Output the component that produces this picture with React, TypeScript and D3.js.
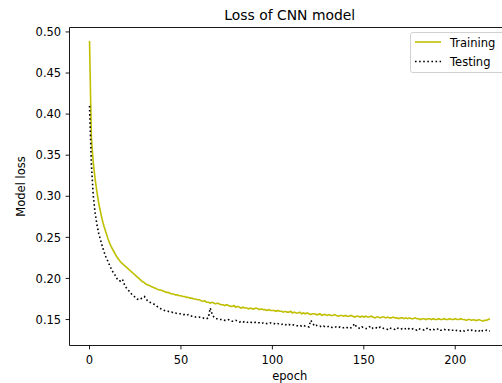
import React from "react";
import * as d3 from "d3";

const trainingLoss: number[] = [
  0.489, 0.372, 0.342, 0.322, 0.306, 0.292, 0.281, 0.271, 0.263, 0.256,
  0.249, 0.243, 0.238, 0.234, 0.230, 0.226, 0.223, 0.220, 0.218, 0.216,
  0.214, 0.212, 0.210, 0.208, 0.206, 0.204, 0.202, 0.200, 0.198, 0.196,
  0.195, 0.193, 0.192, 0.191, 0.190, 0.189, 0.188, 0.187, 0.186, 0.186,
  0.185, 0.184, 0.183, 0.183, 0.182, 0.181, 0.181, 0.180, 0.180, 0.179,
  0.179, 0.178, 0.178, 0.177, 0.177, 0.176, 0.176, 0.175, 0.175, 0.174,
  0.174, 0.173, 0.172, 0.173, 0.171, 0.171, 0.170, 0.171, 0.170, 0.169,
  0.170, 0.169, 0.168, 0.168, 0.167, 0.168, 0.167, 0.166, 0.166, 0.167,
  0.165, 0.166, 0.165, 0.164, 0.165, 0.164, 0.164, 0.163, 0.164, 0.163,
  0.163, 0.164, 0.163, 0.162, 0.163, 0.162, 0.162, 0.161, 0.162, 0.161,
  0.161, 0.161, 0.160, 0.161, 0.160, 0.160, 0.159, 0.160, 0.159, 0.159,
  0.160, 0.158, 0.159, 0.158, 0.158, 0.159, 0.157, 0.158, 0.157, 0.158,
  0.157, 0.156, 0.157, 0.157, 0.156, 0.156, 0.157, 0.155, 0.156, 0.156,
  0.155, 0.156, 0.155, 0.155, 0.156, 0.155, 0.154, 0.155, 0.155, 0.154,
  0.155, 0.154, 0.154, 0.155, 0.154, 0.153, 0.154, 0.154, 0.153, 0.154,
  0.153, 0.154, 0.153, 0.153, 0.154, 0.153, 0.152, 0.153, 0.153, 0.152,
  0.153, 0.153, 0.152, 0.153, 0.152, 0.152, 0.153, 0.152, 0.152, 0.151,
  0.152, 0.152, 0.151, 0.152, 0.151, 0.152, 0.151, 0.151, 0.152, 0.151,
  0.151, 0.150, 0.151, 0.151, 0.150, 0.151, 0.151, 0.150, 0.151, 0.150,
  0.150, 0.151, 0.150, 0.150, 0.151, 0.150, 0.150, 0.151, 0.150, 0.150,
  0.151, 0.150, 0.150, 0.151, 0.150, 0.150, 0.149, 0.150, 0.150, 0.149,
  0.150, 0.149, 0.149, 0.150, 0.149, 0.148, 0.149, 0.149, 0.150, 0.151,
];

const testingLoss: number[] = [
  0.410, 0.340, 0.302, 0.281, 0.266, 0.255, 0.247, 0.239, 0.232, 0.226,
  0.221, 0.216, 0.211, 0.207, 0.204, 0.200, 0.197, 0.197, 0.199, 0.193,
  0.189, 0.186, 0.184, 0.181, 0.179, 0.177, 0.175, 0.174, 0.175, 0.177,
  0.178, 0.175, 0.172, 0.171, 0.170, 0.169, 0.168, 0.166, 0.164, 0.163,
  0.162, 0.161, 0.160, 0.160, 0.159, 0.159, 0.158, 0.158, 0.157, 0.157,
  0.157, 0.156, 0.156, 0.155, 0.156, 0.155, 0.154, 0.154, 0.153, 0.153,
  0.153, 0.152, 0.152, 0.151, 0.151, 0.152, 0.164, 0.157, 0.153, 0.151,
  0.151, 0.150, 0.150, 0.150, 0.149, 0.149, 0.150, 0.149, 0.148, 0.148,
  0.149, 0.148, 0.147, 0.148, 0.147, 0.148, 0.147, 0.146, 0.147, 0.146,
  0.146, 0.147, 0.146, 0.146, 0.145, 0.146, 0.146, 0.145, 0.145, 0.146,
  0.145, 0.145, 0.144, 0.145, 0.144, 0.144, 0.145, 0.144, 0.143, 0.144,
  0.143, 0.144, 0.143, 0.143, 0.142, 0.143, 0.142, 0.143, 0.142, 0.142,
  0.141, 0.149, 0.146, 0.142, 0.143, 0.142, 0.142, 0.141, 0.142, 0.141,
  0.141, 0.142, 0.141, 0.140, 0.141, 0.141, 0.140, 0.141, 0.140, 0.140,
  0.141, 0.140, 0.139, 0.140, 0.142, 0.145, 0.141, 0.140, 0.139, 0.141,
  0.140, 0.139, 0.139, 0.141, 0.142, 0.139, 0.139, 0.140, 0.139, 0.141,
  0.140, 0.139, 0.139, 0.138, 0.140, 0.139, 0.139, 0.138, 0.140, 0.139,
  0.138, 0.139, 0.138, 0.139, 0.140, 0.138, 0.138, 0.139, 0.138, 0.137,
  0.139, 0.138, 0.138, 0.137, 0.138, 0.140, 0.138, 0.137, 0.138, 0.137,
  0.138, 0.139, 0.137, 0.137, 0.138, 0.137, 0.137, 0.138, 0.137, 0.137,
  0.136, 0.137, 0.137, 0.136, 0.137, 0.136, 0.137, 0.137, 0.136, 0.137,
  0.136, 0.136, 0.137, 0.136, 0.138, 0.136, 0.136, 0.137, 0.136, 0.136,
];

const xTicks: number[] = [0, 50, 100, 150, 200];
const yTicks: number[] = [0.15, 0.2, 0.25, 0.3, 0.35, 0.4, 0.45, 0.5];
const seriesNames: string[] = ["Training", "Testing"];

const W = 502;
const H = 383;
const FONT = "'DejaVu Sans', sans-serif";

export default function App() {
  const left = 69.5;
  const right = 510;
  const top = 27.5;
  const bottom = 345.5;

  const x = d3.scaleLinear().domain([-10.95, 229.95]).range([left, right]);
  const y = d3.scaleLinear().domain([0.1184, 0.5054]).range([bottom, top]);

  const line = d3
    .line<number>()
    .x((_, i) => x(i))
    .y((d) => y(d));

  const tickLen = 3.9;
  const fs = 11.5;

  return (
    <svg
      width={W}
      height={H}
      style={{ position: "absolute", left: 0, top: 0, background: "#fff" }}
      fontFamily={FONT}
    >
      <rect x={0} y={0} width={W} height={H} fill="#fff" />
      <text x={(left + right) / 2} y={20} textAnchor="middle" fontSize={13.9} fill="#000">
        Loss of CNN model
      </text>

      <path d={line(trainingLoss) || ""} fill="none" stroke="#bfbf00" strokeWidth={1.6} />
      <path
        d={line(testingLoss) || ""}
        fill="none"
        stroke="#000"
        strokeWidth={1.6}
        strokeDasharray="1.6,2.5"
      />

      {/* spines */}
      <line x1={left} x2={left} y1={top} y2={bottom} stroke="#000" strokeWidth={0.9} />
      <line x1={left} x2={right} y1={bottom} y2={bottom} stroke="#000" strokeWidth={0.9} />
      <line x1={left} x2={right} y1={top} y2={top} stroke="#000" strokeWidth={0.9} />
      <line x1={right} x2={right} y1={top} y2={bottom} stroke="#000" strokeWidth={0.9} />

      {xTicks.map((t) => (
        <g key={"x" + t}>
          <line x1={x(t)} x2={x(t)} y1={bottom} y2={bottom + tickLen} stroke="#000" strokeWidth={0.9} />
          <text x={x(t)} y={363.8} textAnchor="middle" fontSize={fs} fill="#000">
            {t}
          </text>
        </g>
      ))}
      {yTicks.map((t) => (
        <g key={"y" + t}>
          <line x1={left - tickLen} x2={left} y1={y(t)} y2={y(t)} stroke="#000" strokeWidth={0.9} />
          <text x={61.2} y={y(t) + 4.2} textAnchor="end" fontSize={fs} fill="#000">
            {t.toFixed(2)}
          </text>
        </g>
      ))}

      <text x={(left + right) / 2} y={379.8} textAnchor="middle" fontSize={fs} fill="#000">
        epoch
      </text>
      <text
        transform={`translate(24.8, ${(top + bottom) / 2}) rotate(-90)`}
        textAnchor="middle"
        fontSize={fs}
        fill="#000"
      >
        Model loss
      </text>

      {/* legend */}
      <g>
        <rect
          x={410.5}
          y={32.5}
          width={94}
          height={40}
          rx={2.2}
          fill="#fff"
          fillOpacity={0.8}
          stroke="#cccccc"
          strokeWidth={0.9}
        />
        <line x1={415} x2={441} y1={42} y2={42} stroke="#bfbf00" strokeWidth={1.6} />
        <text x={450} y={46.6} fontSize={fs} fill="#000">
          {seriesNames[0]}
        </text>
        <line x1={415} x2={441} y1={61.5} y2={61.5} stroke="#000" strokeWidth={1.6} strokeDasharray="1.6,2.5" />
        <text x={450} y={65.9} fontSize={fs} fill="#000">
          {seriesNames[1]}
        </text>
      </g>
    </svg>
  );
}
